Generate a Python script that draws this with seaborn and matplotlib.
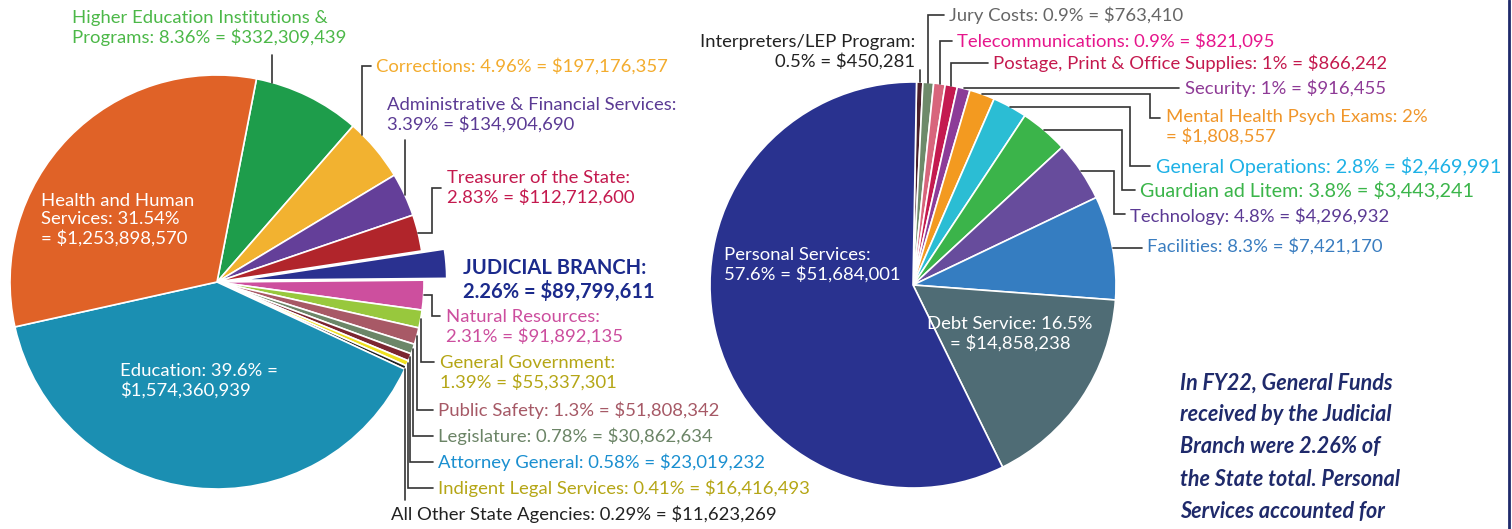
import numpy as np
import matplotlib
matplotlib.use('Agg')
import matplotlib.pyplot as plt
import seaborn as sns

# FY22 state general funds, by area
state_names = ['Higher Education Institutions &\nPrograms', 'Corrections',
               'Administrative & Financial Services', 'Treasurer of the State',
               'JUDICIAL BRANCH', 'Natural Resources', 'General Government',
               'Public Safety', 'Legislature', 'Attorney General',
               'Indigent Legal Services', 'All Other State Agencies',
               'Education', 'Health and Human\nServices']
state_pct = ['8.36', '4.96', '3.39', '2.83', '2.26', '2.31', '1.39', '1.3',
             '0.78', '0.58', '0.41', '0.29', '39.6', '31.54']
state_dollars = [332309439, 197176357, 134904690, 112712600, 89799611,
                 91892135, 55337301, 51808342, 30862634, 23019232, 16416493,
                 11623269, 1574360939, 1253898570]
state_colors = ['#1e9d4b', '#f2b230', '#643f99', '#b1252b', '#2a3190',
                '#cd4f9e', '#98c83d', '#a85966', '#6c8668', '#7b2630',
                '#efe01f', '#222222', '#1b8fb2', '#e06227']
state_text_colors = ['#4cb848', '#f3ac2e', '#5b3a94', '#c4194e', '#1b2a8c',
                     '#cc4e9e', '#b5a616', '#a65966', '#6b8466', '#1a8fd0',
                     '#b5a616', '#222222', 'white', 'white']

# FY22 judicial branch general funds, by line
jud_names = ['Interpreters/LEP Program', 'Jury Costs', 'Telecommunications',
             'Postage, Print & Office Supplies', 'Security',
             'Mental Health Psych Exams', 'General Operations',
             'Guardian ad Litem', 'Technology', 'Facilities', 'Debt Service',
             'Personal Services']
jud_pct = ['0.5', '0.9', '0.9', '1', '1', '2', '2.8', '3.8', '4.8', '8.3',
           '16.5', '57.6']
jud_dollars = [450281, 763410, 821095, 866242, 916455, 1808557, 2469991,
               3443241, 4296932, 7421170, 14858238, 51684001]
jud_colors = ['#4a1f2b', '#6e8a6a', '#d8657c', '#c41a50', '#8c3c98',
              '#f39a20', '#2bbdd4', '#3bb44a', '#674c9c', '#357dc1',
              '#4f6c75', '#29328f']
jud_text_colors = ['#222222', '#666666', '#e6168c', '#c4194e', '#8e3a96',
                   '#f0962a', '#1eb1e6', '#3bb54a', '#5b3a94', '#3a7dc0',
                   'white', 'white']

note = ('In FY22, General Funds\nreceived by the Judicial\nBranch were 2.26% of\n'
        'the State total. Personal\nServices accounted for')

W, H = 1512, 529
LINE = '#333333'
FS = 13.3
# a few labels are set larger in the original
size_override = {'JUDICIAL BRANCH': 14.5, 'General Operations': 14.2,
                 'Guardian ad Litem': 14.2}

# label layout in image pixels: x, y, ha, where to break, leader route, attach
state_layout = [
    (72, 28, 'left', '', [('v', 55)], 0.15),
    (376, 66, 'left', '', [('v', 66), ('h', 371)], 0.2),
    (387, 115, 'left', 'colon', [('v', 140)], 0.5),
    (447, 188, 'left', 'colon', [('h', 432), ('v', 188), ('h', 441)], 0.5),
    (463, 280, 'left', 'colon', [], 0.5),
    (446, 327, 'left', 'colon', [('h', 432), ('v', 316), ('h', 440)], 0.5),
    (440, 373, 'left', 'colon', [('v', 362), ('h', 434)], 0.5),
    (438, 410, 'left', '', [('v', 410), ('h', 433)], 0.5),
    (438, 436, 'left', '', [('v', 436), ('h', 433)], 0.5),
    (438, 462, 'left', '', [('v', 462), ('h', 433)], 0.5),
    (438, 488, 'left', '', [('v', 488), ('h', 433)], 0.4),
    (391, 514, 'left', '', [('v', 500)], 0.8),
    (120, 381, 'left', 'after_eq', None, 0.5),
    (41, 220, 'left', 'eq', None, 0.5),
]
jud_layout = [
    (915, 52, 'right', 'colon', [('v', 70)], 0.5),
    (949, 15, 'left', '', [('v', 15), ('h', 944)], 0.5),
    (957, 41, 'left', '', [('v', 41), ('h', 952)], 0.5),
    (993, 63, 'left', '', [('v', 63), ('h', 988)], 0.5),
    (1185, 88, 'left', '', [('h', 1179)], 0.5),
    (1166, 127, 'left', 'eq', [('h', 1150), ('v', 118), ('h', 1160)], 0.5),
    (1156, 166, 'left', '', [('h', 1130), ('v', 166), ('h', 1150)], 0.5),
    (1140, 190, 'left', '', [('h', 1122), ('v', 190), ('h', 1135)], 0.5),
    (1130, 216, 'left', '', [('h', 1114), ('v', 214), ('h', 1125)], 0.5),
    (1147, 246, 'left', '', [('h', 1142)], 0.5),
    (1010, 334, 'center', 'eq', None, 0.5),
    (724, 265, 'left', 'colon', None, 0.5),
]


def make_label(name, pct, dollars, brk):
    sep1 = '\n' if brk == 'colon' else ' '
    sep2 = '\n' if brk == 'eq' else ' '
    sep3 = '\n' if brk == 'after_eq' else ' '
    return f'{name}:{sep1}{pct}%{sep2}={sep3}${dollars:,}'


def draw_leader(ax, wedge, route, attach):
    # start on the rim, measured clockwise from the wedge's leading edge
    a = np.radians(wedge.theta2 - attach * (wedge.theta2 - wedge.theta1))
    x = wedge.center[0] + wedge.r * np.cos(a)
    y = wedge.center[1] + wedge.r * np.sin(a)
    xs, ys = [x], [y]
    for kind, v in route:
        if kind == 'v':
            y = H - v
        else:
            x = v
        xs.append(x)
        ys.append(y)
    ax.plot(xs, ys, color=LINE, lw=1.2, solid_joinstyle='miter')


def draw_pie(ax, names, pct, dollars, colors, text_colors, layout,
             center, radius, start, explode=None):
    wedges, _ = ax.pie(dollars, colors=colors, startangle=start,
                       counterclock=False, center=(center[0], H - center[1]),
                       radius=radius, explode=explode,
                       wedgeprops=dict(edgecolor='white', linewidth=1.2))
    for i, (x, y, ha, brk, route, attach) in enumerate(layout):
        bold = names[i] == 'JUDICIAL BRANCH'
        ax.text(x, H - y, make_label(names[i], pct[i], dollars[i], brk),
                ha=ha, va='center', multialignment=ha,
                fontsize=size_override.get(names[i], FS),
                color=text_colors[i], linespacing=1.2,
                fontweight='bold' if bold else 'normal')
        if route:
            draw_leader(ax, wedges[i], route, attach)
    return wedges


sns.set_theme(style='white')
plt.rcParams['font.family'] = ['Lato', 'DejaVu Sans']

fig = plt.figure(figsize=(W / 100, H / 100), dpi=100)
ax = fig.add_axes([0, 0, 1, 1])

state_explode = [0.11 * 207 if n == 'JUDICIAL BRANCH' else 0 for n in state_names]
draw_pie(ax, state_names, state_pct, state_dollars, state_colors,
         state_text_colors, state_layout, (217, 282), 207, 79, state_explode)
draw_pie(ax, jud_names, jud_pct, jud_dollars, jud_colors, jud_text_colors,
         jud_layout, (913, 285), 203, 89)

ax.text(1180, H - 447, note, ha='left', va='center', fontsize=15.5,
        fontweight='bold', fontstyle='italic', color='#1f2a6b', linespacing=1.65)
ax.plot([1509, 1509], [0, H], color='#1f2a6b', lw=2)

ax.set_xlim(0, W)
ax.set_ylim(0, H)
ax.set_aspect('equal')
ax.axis('off')

fig.savefig('out.png', dpi=100)
